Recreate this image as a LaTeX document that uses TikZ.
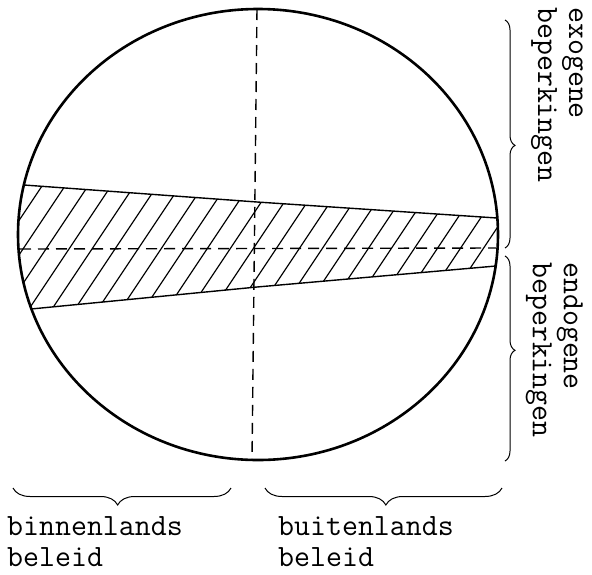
\documentclass[tikz,border=0pt]{standalone}
\usepackage{tikz}
\usetikzlibrary{calc, positioning, decorations.pathreplacing}
\begin{document}
\begin{tikzpicture}[x=1pt, y=-1pt,
  rim/.style={line width=2.6pt},
  edge/.style={line width=1.4pt},
  axis/.style={line width=1.4pt, dash pattern=on 11pt off 7pt},
  hatch/.style={line width=1.2pt},
  brace/.style={decorate, decoration={brace, amplitude=#1}, line width=1pt},
  lbl/.style={font=\fontsize{31}{31}\selectfont\ttfamily, align=left, inner sep=0pt},
]
  \useasboundingbox (0,0) rectangle (592,574);
  \coordinate (c) at (258,234.5);
  \coordinate (top) at (257,9);
  \coordinate (bot) at (252,460);
  \coordinate (w) at (20,249);
  \coordinate (e) at (496,248);
  \coordinate (tl) at (24,185);
  \coordinate (tm) at (257,202);
  \coordinate (tr) at (497,218);
  \coordinate (bl) at (31,309);
  \coordinate (bm) at (257,287);
  \coordinate (br) at (496,266);
  \begin{scope}
    \clip (c) ellipse [x radius=240, y radius=225.5];
    \clip (0,183) -- (tm) -- (tr) -- (540,220) -- (540,266) -- (br) -- (bm) -- (0,312) -- cycle;
    \foreach \x in {-100,-77,...,540}
      \draw[hatch] (\x,330) -- ++(100,-150);
  \end{scope}
  \draw[rim] (c) ellipse [x radius=240, y radius=225.5];
  \draw[edge] (tl) -- (tm) -- (tr);
  \draw[edge] (bl) -- (bm) -- (br);
  \draw[axis] (top) -- (bot);
  \draw[axis] (w) -- (e);

  \coordinate (ex1) at (505,20);
  \coordinate (ex2) at (505,248);
  \coordinate (en1) at (505,256);
  \coordinate (en2) at (505,461);
  \coordinate (bi1) at (13,488);
  \coordinate (bi2) at (231,488);
  \coordinate (bu1) at (265,488);
  \coordinate (bu2) at (502,488);
  \draw[brace=10pt, decoration={aspect=0.55}] (ex1) -- (ex2);
  \draw[brace=10pt, decoration={aspect=0.46}] (en1) -- (en2);
  \draw[brace=17pt, decoration={aspect=0.52}] (bi2) -- (bi1);
  \draw[brace=17pt, decoration={aspect=0.49}] (bu2) -- (bu1);

  \node[lbl, anchor=north west] (bin) at (7,516) {binnenlands\\beleid};
  \node[lbl, anchor=north west] (buit) at (278,516) {buitenlands\\beleid};
  \node[lbl, rotate=-90, anchor=north west] (exo) at (583,7) {exogene\\beperkingen};
  \node[lbl, rotate=-90, anchor=north west] (endo) at (583,262) {endogene\\beperkingen};
\end{tikzpicture}
\end{document}
